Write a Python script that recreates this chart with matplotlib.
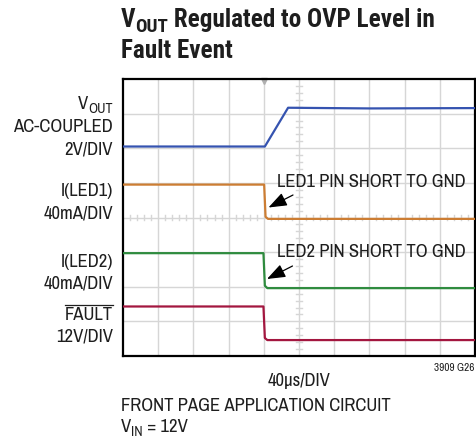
import matplotlib
matplotlib.use("Agg")
import matplotlib.pyplot as plt
import numpy as np

REG = ['Archivo Narrow', 'DejaVu Sans']
BOLD = ['Roboto Condensed', 'IBM Plex Sans Condensed', 'DejaVu Sans']
plt.rcParams['font.family'] = REG

# ---- data (in scope divisions: x 0..10, y 0..8) ----
vout_t = [0.0, 4.03, 4.69, 7.0, 10.0]
vout_v = [6.05, 6.05, 7.17, 7.15, 7.16]

led1_t = [0.0, 4.01, 4.05, 4.12, 10.0]
led1_v = [4.95, 4.95, 4.02, 3.96, 3.96]

led2_t = [0.0, 3.99, 4.03, 4.10, 10.0]
led2_v = [2.97, 2.97, 2.03, 1.96, 1.96]

fault_t = [0.0, 3.99, 4.03, 4.10, 10.0]
fault_v = [1.43, 1.43, 0.52, 0.46, 0.46]

trace_colors = ['#3553b0', '#cc7d33', '#2e8b3e', '#a3163f']

W, H = 476, 439
fig = plt.figure(figsize=(W / 100, H / 100), dpi=100)
renderer = fig.canvas.get_renderer()
TXT = '#1e1e1e'

def fx(px):
    return px / W

def fy(py):
    return 1 - py / H

def width_of(s, size, family, weight='normal'):
    t = fig.text(0, 0, s, fontsize=size, family=family, fontweight=weight)
    w = t.get_window_extent(renderer).width
    t.remove()
    return w

def fit_size(s, target_px, family, weight='normal'):
    return 12 * target_px / width_of(s, 12, family, weight)

SUB = 0.76

def rich(x, y, pieces, size, family, weight='normal', ha='left', overline=False):
    """pieces: list of (text, is_sub). y is vertical centre (px) of main text."""
    widths = []
    for s, sub in pieces:
        widths.append(width_of(s, size * (SUB if sub else 1), family, weight))
    total = sum(widths)
    x0 = x - total if ha == 'right' else (x - total / 2 if ha == 'center' else x)
    cx = x0
    objs = []
    for (s, sub), w in zip(pieces, widths):
        sz = size * (SUB if sub else 1)
        dy = size * 0.38 if sub else 0
        t = fig.text(fx(cx), fy(y + dy), s, fontsize=sz, family=family, fontweight=weight,
                     ha='left', va='center', color=TXT)
        objs.append(t)
        cx += w
    if overline:
        ext = objs[0].get_window_extent(renderer)
        ytop = ext.y1 + 1
        fig.add_artist(plt.Line2D([ext.x0 / W, ext.x1 / W], [ytop / H, ytop / H],
                                  color=TXT, lw=0.9))
    return objs

L, R, T, B = 123, 475, 80, 357
ax = fig.add_axes([fx(L), fy(B), fx(R) - fx(L), fy(T) - fy(B)])
ax.set_xlim(0, 10)
ax.set_ylim(0, 8)
ax.set_xticks([])
ax.set_yticks([])

grid_c = '#d6d6d6'
for i in range(1, 10):
    ax.axvline(i, color=grid_c, lw=1.0, zorder=1)
for j in range(1, 8):
    ax.axhline(j, color=grid_c, lw=1.0, zorder=1)
for k in range(0, 50):
    if k % 5:
        ax.plot([k / 5, k / 5], [4 - 0.08, 4 + 0.08], color=grid_c, lw=1.0, zorder=1)
for k in range(0, 40):
    if k % 5:
        ax.plot([5 - 0.08, 5 + 0.08], [k / 5, k / 5], color=grid_c, lw=1.0, zorder=1)
ax.plot([4.0], [7.93], marker='v', color='#b0b0b0', ms=5, zorder=2, clip_on=False)

for s in ax.spines.values():
    s.set_linewidth(1.6)
    s.set_color('black')

for t, v, c in [(vout_t, vout_v, trace_colors[0]), (led1_t, led1_v, trace_colors[1]),
                (led2_t, led2_v, trace_colors[2]), (fault_t, fault_v, trace_colors[3])]:
    ax.plot(t, v, color=c, lw=1.6, zorder=3, solid_joinstyle='round')

def d(px, py):
    return ((px - L) / ((R - L) / 10), (B - py) / ((B - T) / 8))

ax.annotate('', xy=d(268.5, 208.5), xytext=d(293, 196),
            arrowprops=dict(arrowstyle='-|>,head_length=0.8,head_width=0.3', color='black',
                            lw=0.9, mutation_scale=14, shrinkA=0, shrinkB=0))
ax.annotate('', xy=d(267, 280), xytext=d(292.5, 267),
            arrowprops=dict(arrowstyle='-|>,head_length=0.8,head_width=0.3', color='black',
                            lw=0.9, mutation_scale=14, shrinkA=0, shrinkB=0))

fs = fit_size('FRONT PAGE APPLICATION CIRCUIT', 271, REG)

fig.text(fx(277), fy(182), 'LED1 PIN SHORT TO GND', fontsize=fs, ha='left', va='center', color=TXT)
fig.text(fx(277), fy(252), 'LED2 PIN SHORT TO GND', fontsize=fs, ha='left', va='center', color=TXT)

# title
tfs = fit_size('Fault Event', 112, BOLD, 'bold')
rich(121, 20, [('V', False), ('OUT', True), (' Regulated to OVP Level in', False)], tfs, BOLD, 'bold')
rich(121, 51, [('Fault Event', False)], tfs, BOLD, 'bold')

# left labels
lx = 113
rich(lx, 104, [('V', False), ('OUT', True)], fs, REG, ha='right')
for txt, py in [('AC-COUPLED', 127), ('2V/DIV', 149), ('I(LED1)', 191), ('40mA/DIV', 214),
                ('I(LED2)', 262), ('40mA/DIV', 284), ('12V/DIV', 337)]:
    fig.text(fx(lx), fy(py), txt, fontsize=fs, ha='right', va='center', color=TXT)
rich(lx, 315, [('FAULT', False)], fs, REG, ha='right', overline=True)

# bottom texts
fig.text(fx(299), fy(381), '40µs/DIV', fontsize=fs, ha='center', va='center', color=TXT)
fig.text(fx(121), fy(406), 'FRONT PAGE APPLICATION CIRCUIT', fontsize=fs, ha='left', va='center', color=TXT)
rich(121, 427, [('V', False), ('IN', True), (' = 12V', False)], fs, REG)
fig.text(fx(474), fy(368), '3909 G26', fontsize=fs * 0.6, ha='right', va='center', color=TXT)

fig.savefig('out.png', dpi=100)
